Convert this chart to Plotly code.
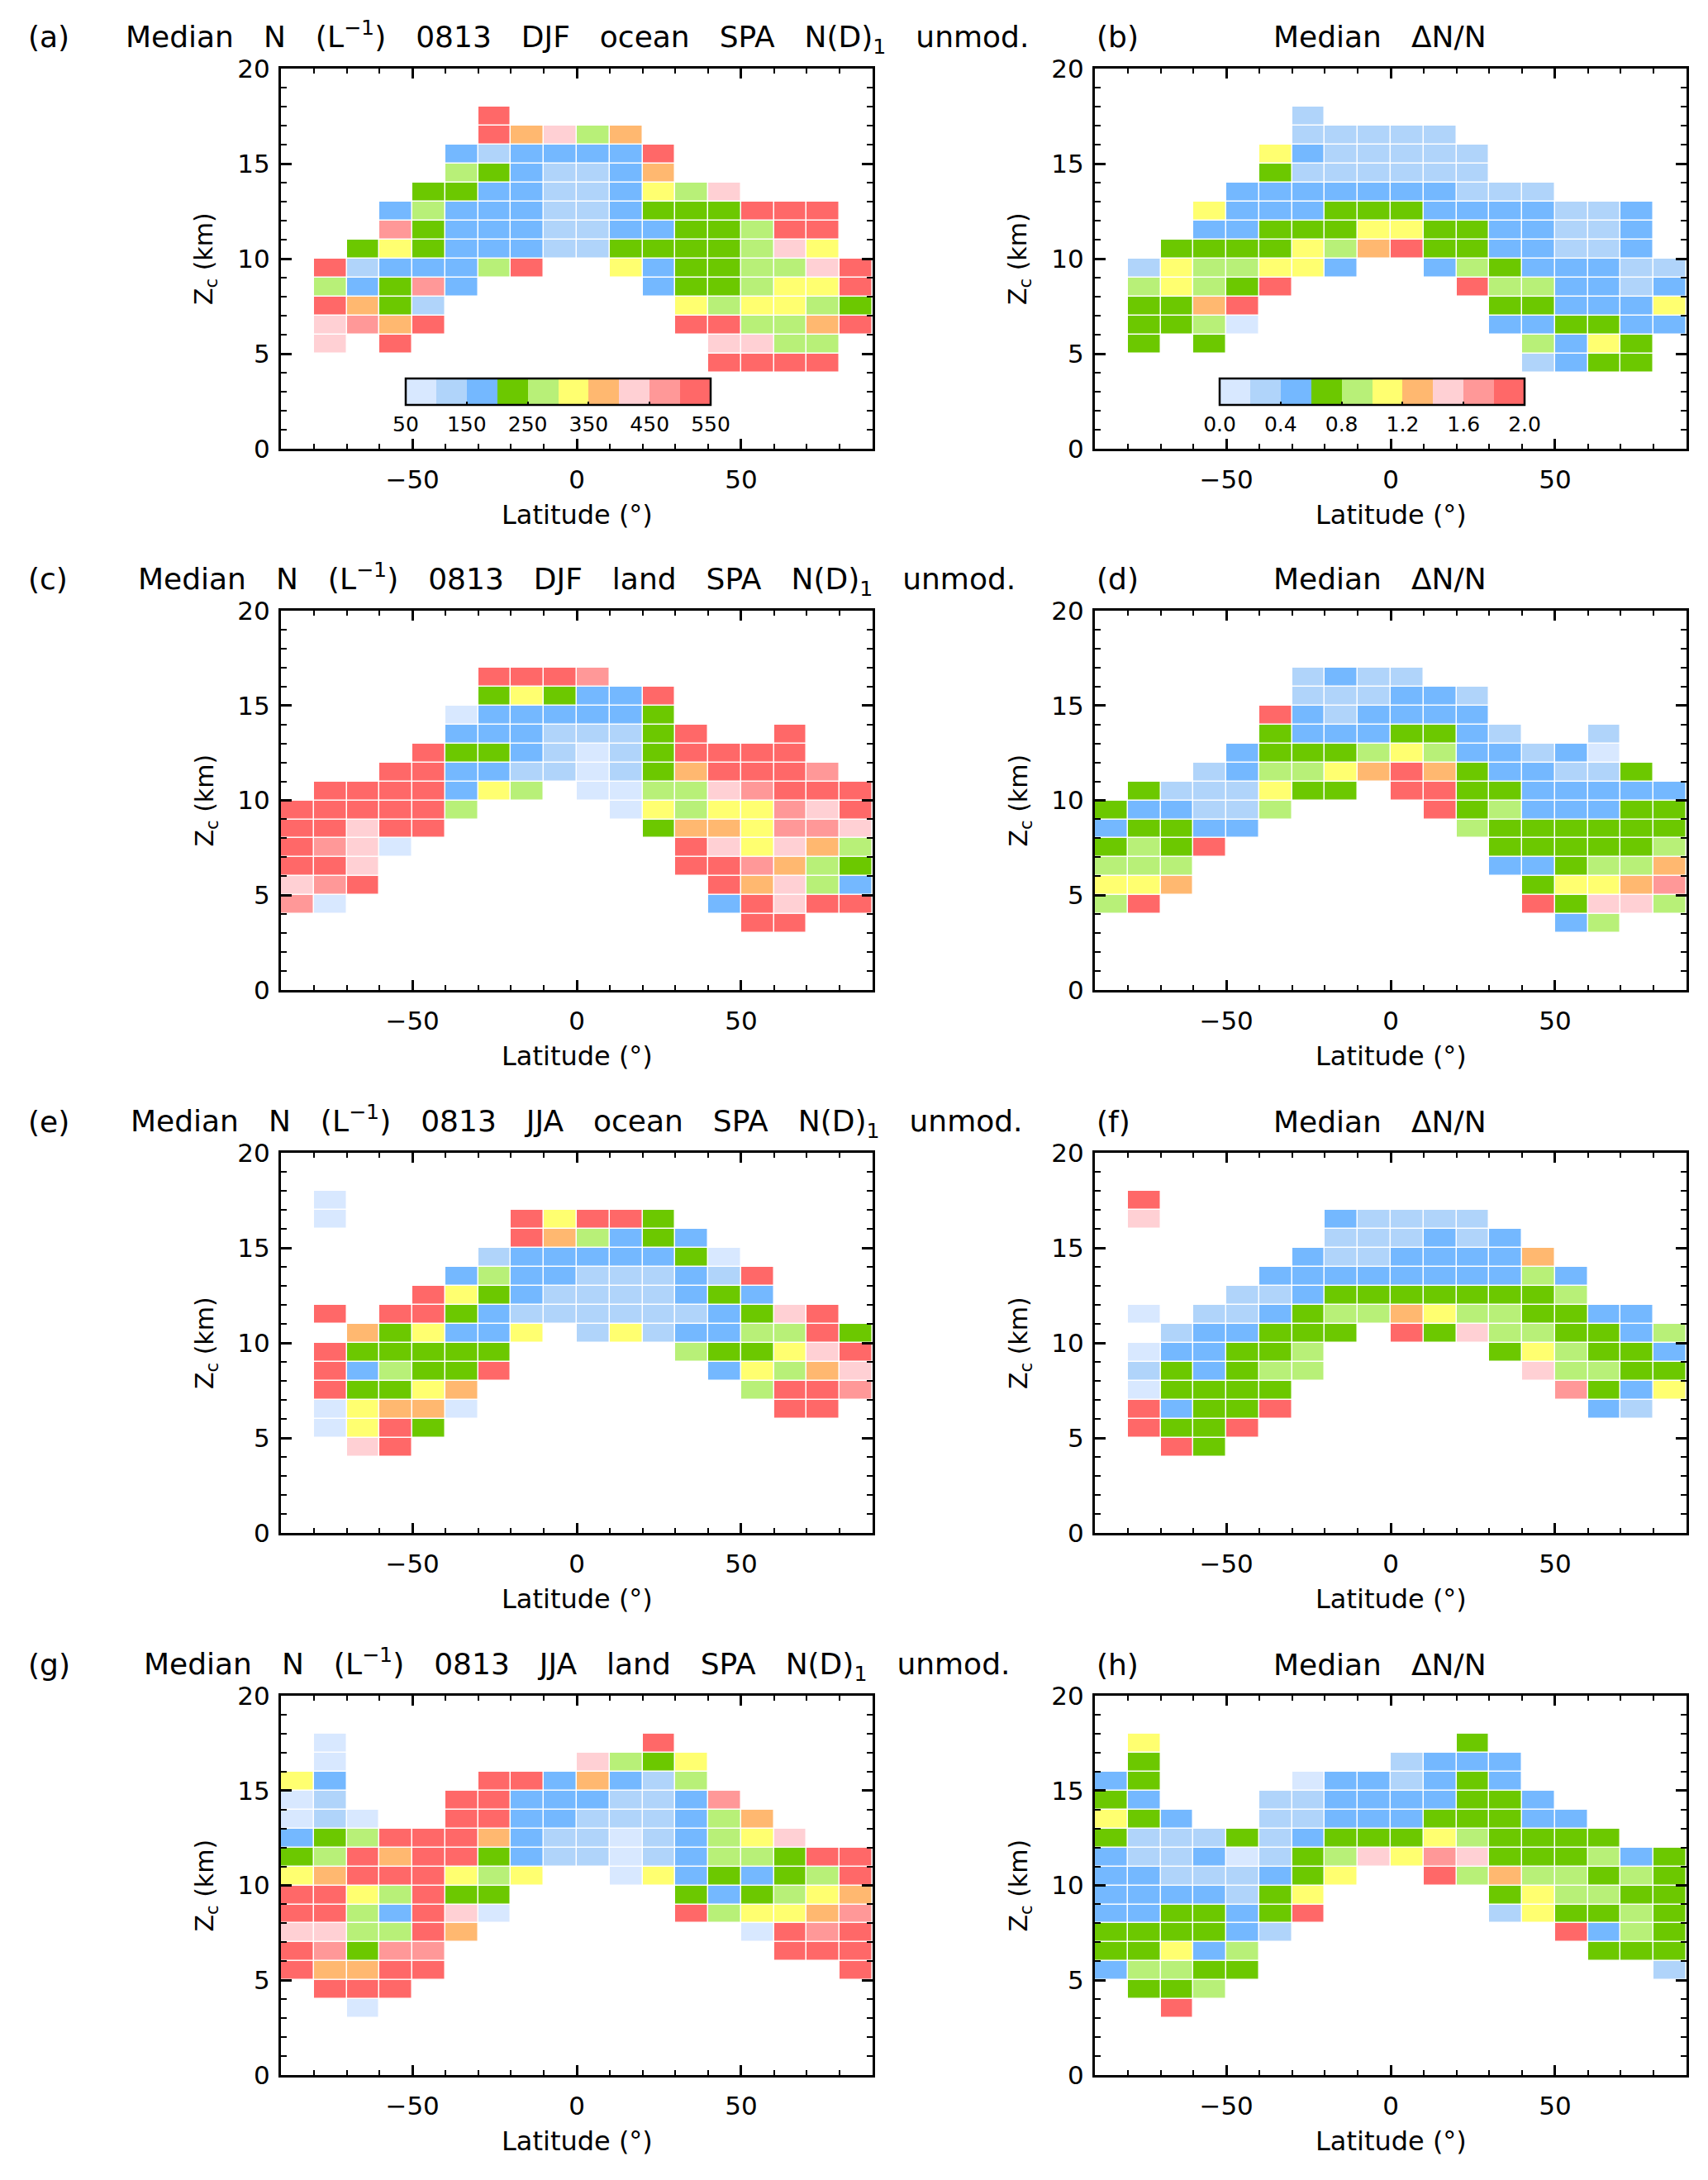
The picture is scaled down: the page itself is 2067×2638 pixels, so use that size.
import plotly.graph_objects as go

_ = None

# ---------------- data ----------------
LAT_CENTERS = [-85, -75, -65, -55, -45, -35, -25, -15, -5, 5, 15, 25, 35, 45, 55, 65, 75, 85]
# altitude bin centres (km), rows listed top -> bottom
Z_CENTERS = [17.5, 16.5, 15.5, 14.5, 13.5, 12.5, 11.5, 10.5, 9.5, 8.5, 7.5, 6.5, 5.5, 4.5, 3.5]

N_COLORBAR_TICKS = [50, 150, 250, 350, 450, 550]
R_COLORBAR_TICKS = [0.0, 0.4, 0.8, 1.2, 1.6, 2.0]
R_COLORBAR_TEXT = ["0.0", "0.4", "0.8", "1.2", "1.6", "2.0"]

# (a) Median N, DJF ocean
N_DJF_OCEAN = [
    [_, _, _, _, _, _, 525, _, _, _, _, _, _, _, _, _, _, _],
    [_, _, _, _, _, _, 525, 375, 425, 275, 375, _, _, _, _, _, _, _],
    [_, _, _, _, _, 175, 125, 175, 175, 175, 175, 525, _, _, _, _, _, _],
    [_, _, _, _, _, 275, 225, 175, 125, 125, 175, 375, _, _, _, _, _, _],
    [_, _, _, _, 225, 225, 175, 175, 125, 125, 175, 325, 275, 425, _, _, _, _],
    [_, _, _, 175, 275, 175, 175, 175, 125, 125, 175, 225, 225, 225, 525, 525, 525, _],
    [_, _, _, 475, 225, 175, 175, 175, 125, 125, 175, 175, 225, 225, 275, 525, 525, _],
    [_, _, 225, 325, 225, 175, 175, 175, 125, 125, 225, 225, 225, 225, 275, 425, 325, _],
    [_, 525, 125, 175, 175, 175, 275, 525, _, _, 325, 175, 225, 225, 275, 275, 425, 525],
    [_, 275, 175, 225, 475, 175, _, _, _, _, _, 175, 225, 225, 275, 325, 325, 525],
    [_, 525, 375, 225, 125, _, _, _, _, _, _, _, 325, 275, 325, 325, 275, 225],
    [_, 425, 475, 375, 525, _, _, _, _, _, _, _, 525, 525, 275, 275, 375, 525],
    [_, 425, _, 525, _, _, _, _, _, _, _, _, _, 425, 425, 275, 275, _],
    [_, _, _, _, _, _, _, _, _, _, _, _, _, 525, 525, 525, 525, _],
    [_, _, _, _, _, _, _, _, _, _, _, _, _, _, _, _, _, _],
]

# (b) Median dN/N, DJF ocean
DNN_DJF_OCEAN = [
    [_, _, _, _, _, _, .3, _, _, _, _, _, _, _, _, _, _, _],
    [_, _, _, _, _, _, .3, .3, .3, .3, .3, _, _, _, _, _, _, _],
    [_, _, _, _, _, 1.1, .5, .3, .3, .3, .3, .3, _, _, _, _, _, _],
    [_, _, _, _, _, .7, .3, .3, .3, .3, .3, .3, _, _, _, _, _, _],
    [_, _, _, _, .5, .5, .5, .5, .5, .5, .5, .3, .3, .3, _, _, _, _],
    [_, _, _, 1.1, .5, .5, .5, .7, .7, .7, .5, .5, .5, .5, .3, .3, .5, _],
    [_, _, _, .5, .5, .7, .7, .7, 1.1, 1.1, .7, .7, .5, .5, .3, .3, .5, _],
    [_, _, .7, .7, .7, .7, 1.1, .9, 1.3, 1.9, .7, .7, .5, .5, .3, .3, .5, _],
    [_, .3, 1.1, .9, .9, 1.1, 1.1, .5, _, _, .5, .9, .7, .5, .5, .5, .3, .3],
    [_, .9, 1.1, .9, .7, 1.9, _, _, _, _, _, 1.9, .9, .9, .5, .5, .3, .5],
    [_, .7, .7, 1.3, 1.9, _, _, _, _, _, _, _, .7, .7, .5, .5, .5, 1.1],
    [_, .7, .7, .9, .1, _, _, _, _, _, _, _, .5, .5, .7, .7, .5, .5],
    [_, .7, _, .7, _, _, _, _, _, _, _, _, _, .9, .5, 1.1, .7, _],
    [_, _, _, _, _, _, _, _, _, _, _, _, _, .3, .5, .7, .7, _],
    [_, _, _, _, _, _, _, _, _, _, _, _, _, _, _, _, _, _],
]

# (c) Median N, DJF land
N_DJF_LAND = [
    [_, _, _, _, _, _, _, _, _, _, _, _, _, _, _, _, _, _],
    [_, _, _, _, _, _, 525, 525, 525, 475, _, _, _, _, _, _, _, _],
    [_, _, _, _, _, _, 225, 325, 225, 175, 175, 525, _, _, _, _, _, _],
    [_, _, _, _, _, 75, 175, 175, 175, 175, 175, 225, _, _, _, _, _, _],
    [_, _, _, _, _, 175, 175, 175, 125, 125, 125, 225, 525, _, _, 525, _, _],
    [_, _, _, _, 525, 225, 225, 175, 125, 75, 125, 225, 525, 525, 525, 525, _, _],
    [_, _, _, 525, 525, 175, 175, 125, 125, 75, 125, 225, 375, 525, 525, 525, 475, _],
    [_, 525, 525, 525, 525, 175, 325, 275, _, 75, 75, 275, 275, 425, 475, 525, 525, 525],
    [525, 525, 525, 525, 525, 275, _, _, _, _, 75, 325, 275, 325, 325, 475, 425, 525],
    [525, 525, 425, 525, 525, _, _, _, _, _, _, 225, 375, 375, 325, 475, 475, 425],
    [525, 475, 425, 75, _, _, _, _, _, _, _, _, 525, 425, 325, 425, 375, 275],
    [525, 525, 425, _, _, _, _, _, _, _, _, _, 525, 525, 475, 375, 275, 225],
    [425, 475, 525, _, _, _, _, _, _, _, _, _, _, 525, 375, 425, 275, 175],
    [475, 75, _, _, _, _, _, _, _, _, _, _, _, 175, 525, 425, 525, 525],
    [_, _, _, _, _, _, _, _, _, _, _, _, _, _, 525, 525, _, _],
]

# (d) Median dN/N, DJF land
DNN_DJF_LAND = [
    [_, _, _, _, _, _, _, _, _, _, _, _, _, _, _, _, _, _],
    [_, _, _, _, _, _, .3, .5, .3, .3, _, _, _, _, _, _, _, _],
    [_, _, _, _, _, _, .3, .3, .3, .5, .5, .3, _, _, _, _, _, _],
    [_, _, _, _, _, 1.9, .5, .3, .5, .5, .5, .5, _, _, _, _, _, _],
    [_, _, _, _, _, .7, .5, .5, .5, .7, .7, .5, .3, _, _, .3, _, _],
    [_, _, _, _, .5, .7, .7, .7, .9, 1.1, .9, .5, .5, .3, .5, .1, _, _],
    [_, _, _, .3, .5, .9, .9, 1.1, 1.3, 1.9, 1.3, .7, .5, .5, .3, .3, .7, _],
    [_, .7, .3, .3, .3, 1.1, .7, .7, _, 1.9, 1.9, .7, .7, .5, .5, .5, .5, .5],
    [.7, .5, .5, .3, .3, .9, _, _, _, _, 1.9, .7, .9, .5, .5, .5, .7, .7],
    [.5, .7, .7, .5, .5, _, _, _, _, _, _, .9, .7, .7, .7, .7, .7, .7],
    [.7, .9, .7, 1.9, _, _, _, _, _, _, _, _, .7, .7, .7, .7, .7, .9],
    [.9, .9, .9, _, _, _, _, _, _, _, _, _, .5, .5, .7, .9, .9, 1.3],
    [1.1, 1.1, 1.3, _, _, _, _, _, _, _, _, _, _, .7, 1.1, 1.1, 1.3, 1.7],
    [.9, 1.9, _, _, _, _, _, _, _, _, _, _, _, 1.9, .7, 1.5, 1.5, .9],
    [_, _, _, _, _, _, _, _, _, _, _, _, _, _, .5, .9, _, _],
]

# (e) Median N, JJA ocean
N_JJA_OCEAN = [
    [_, 75, _, _, _, _, _, _, _, _, _, _, _, _, _, _, _, _],
    [_, 75, _, _, _, _, _, 525, 325, 525, 525, 225, _, _, _, _, _, _],
    [_, _, _, _, _, _, _, 525, 375, 275, 175, 225, 175, _, _, _, _, _],
    [_, _, _, _, _, _, 125, 175, 175, 175, 175, 175, 225, 75, _, _, _, _],
    [_, _, _, _, _, 175, 275, 175, 175, 125, 125, 125, 175, 125, 525, _, _, _],
    [_, _, _, _, 525, 325, 225, 175, 125, 125, 125, 125, 175, 225, 175, _, _, _],
    [_, 525, _, 525, 525, 225, 175, 125, 125, 125, 125, 125, 125, 175, 225, 425, 525, _],
    [_, _, 375, 225, 325, 175, 175, 325, _, 125, 325, 125, 175, 175, 275, 275, 525, 225],
    [_, 525, 225, 225, 225, 225, 225, _, _, _, _, _, 275, 225, 225, 325, 425, 525],
    [_, 525, 175, 275, 225, 225, 525, _, _, _, _, _, _, 175, 325, 275, 375, 425],
    [_, 525, 225, 225, 325, 375, _, _, _, _, _, _, _, _, 275, 525, 525, 475],
    [_, 75, 325, 375, 375, 75, _, _, _, _, _, _, _, _, _, 525, 525, _],
    [_, 75, 325, 525, 225, _, _, _, _, _, _, _, _, _, _, _, _, _],
    [_, _, 425, 525, _, _, _, _, _, _, _, _, _, _, _, _, _, _],
    [_, _, _, _, _, _, _, _, _, _, _, _, _, _, _, _, _, _],
]

# (f) Median dN/N, JJA ocean
DNN_JJA_OCEAN = [
    [_, 1.9, _, _, _, _, _, _, _, _, _, _, _, _, _, _, _, _],
    [_, 1.5, _, _, _, _, _, .5, .3, .3, .3, .3, _, _, _, _, _, _],
    [_, _, _, _, _, _, _, .3, .3, .3, .5, .3, .5, _, _, _, _, _],
    [_, _, _, _, _, _, .5, .3, .3, .5, .5, .5, .5, 1.3, _, _, _, _],
    [_, _, _, _, _, .5, .5, .5, .5, .5, .5, .5, .5, .9, .5, _, _, _],
    [_, _, _, _, .3, .3, .5, .7, .7, .7, .7, .7, .7, .7, .9, _, _, _],
    [_, .1, _, .3, .3, .5, .7, .9, .9, 1.3, 1.1, .9, .9, .7, .7, .5, .5, _],
    [_, _, .3, .5, .5, .7, .7, .7, _, 1.9, .7, 1.5, .9, .9, .7, .7, .5, .9],
    [_, .1, .5, .5, .7, .7, .9, _, _, _, _, _, .7, 1.1, .9, .7, .7, .5],
    [_, .3, .7, .5, .7, .9, .9, _, _, _, _, _, _, 1.5, .9, .9, .7, .7],
    [_, .1, .7, .7, .7, .7, _, _, _, _, _, _, _, _, 1.7, .7, .5, 1.1],
    [_, 1.9, .5, .7, .7, 1.9, _, _, _, _, _, _, _, _, _, .5, .3, _],
    [_, 1.9, .7, .7, 1.9, _, _, _, _, _, _, _, _, _, _, _, _, _],
    [_, _, 1.9, .7, _, _, _, _, _, _, _, _, _, _, _, _, _, _],
    [_, _, _, _, _, _, _, _, _, _, _, _, _, _, _, _, _, _],
]

# (g) Median N, JJA land
N_JJA_LAND = [
    [_, 75, _, _, _, _, _, _, _, _, _, 525, _, _, _, _, _, _],
    [_, 75, _, _, _, _, _, _, _, 425, 275, 225, 325, _, _, _, _, _],
    [325, 175, _, _, _, _, 525, 525, 175, 375, 175, 125, 275, _, _, _, _, _],
    [75, 125, _, _, _, 525, 525, 175, 175, 175, 125, 125, 175, 475, _, _, _, _],
    [75, 125, 75, _, _, 525, 525, 175, 175, 125, 125, 125, 175, 275, 375, _, _, _],
    [175, 225, 275, 525, 525, 525, 375, 175, 125, 125, 75, 125, 175, 275, 325, 425, _, _],
    [225, 275, 525, 375, 525, 525, 225, 175, 125, 125, 75, 125, 175, 275, 275, 225, 525, 525],
    [325, 375, 525, 525, 525, 325, 275, 325, _, _, 75, 325, 175, 225, 175, 225, 275, 525],
    [525, 525, 325, 275, 525, 225, 225, _, _, _, _, _, 225, 175, 225, 275, 325, 375],
    [525, 525, 275, 175, 525, 425, 75, _, _, _, _, _, 525, 275, 325, 325, 375, 475],
    [425, 425, 275, 275, 525, 375, _, _, _, _, _, _, _, _, 75, 525, 475, 525],
    [525, 475, 225, 475, 475, _, _, _, _, _, _, _, _, _, _, 525, 525, 525],
    [525, 375, 375, 525, 525, _, _, _, _, _, _, _, _, _, _, _, _, 525],
    [_, 525, 525, 525, _, _, _, _, _, _, _, _, _, _, _, _, _, _],
    [_, _, 75, _, _, _, _, _, _, _, _, _, _, _, _, _, _, _],
]

# (h) Median dN/N, JJA land
DNN_JJA_LAND = [
    [_, 1.1, _, _, _, _, _, _, _, _, _, .7, _, _, _, _, _, _],
    [_, .7, _, _, _, _, _, _, _, .3, .5, .5, .5, _, _, _, _, _],
    [.5, .7, _, _, _, _, .1, .5, .5, .3, .5, .7, .5, _, _, _, _, _],
    [.7, .5, _, _, _, .3, .3, .5, .5, .5, .5, .7, .7, .5, _, _, _, _],
    [1.1, .7, .5, _, _, .3, .3, .5, .5, .5, .7, .7, .7, .5, .5, _, _, _],
    [.7, .3, .3, .3, .7, .3, .5, .7, .7, .7, 1.1, .9, .7, .7, .7, .7, _, _],
    [.5, .3, .3, .5, .1, .3, .7, .9, 1.5, 1.1, 1.7, 1.5, .7, .7, .7, .9, .5, .7],
    [.5, .5, .3, .3, .3, .5, .7, 1.1, _, _, 1.9, .9, 1.3, .9, .9, .7, .9, .7],
    [.5, .5, .5, .5, .3, .7, 1.1, _, _, _, _, _, .7, 1.1, .9, .9, .7, .7],
    [.5, .5, .7, .7, .5, .7, 1.9, _, _, _, _, _, .3, 1.1, .7, .7, .9, .7],
    [.7, .7, .7, .7, .5, .3, _, _, _, _, _, _, _, _, 1.9, .5, .9, .7],
    [.7, .7, 1.1, .5, .9, _, _, _, _, _, _, _, _, _, _, .7, .7, .7],
    [.5, .9, .9, .7, .7, _, _, _, _, _, _, _, _, _, _, _, _, .3],
    [_, .7, .7, .9, _, _, _, _, _, _, _, _, _, _, _, _, _, _],
    [_, _, 1.9, _, _, _, _, _, _, _, _, _, _, _, _, _, _, _],
]

SP = "\u2003"
TITLE_N = SP.join(["Median", "N", "(L<sup>\u22121</sup>)", "0813", "{season}", "{surface}",
                   "SPA", "N(D)<sub>1</sub>", "unmod."])
TITLE_R = SP.join(["Median", "\u0394N/N"])

PANELS = [
    ("(a)", TITLE_N.format(season="DJF", surface="ocean"), N_DJF_OCEAN, "N"),
    ("(b)", TITLE_R, DNN_DJF_OCEAN, "R"),
    ("(c)", TITLE_N.format(season="DJF", surface="land"), N_DJF_LAND, "N"),
    ("(d)", TITLE_R, DNN_DJF_LAND, "R"),
    ("(e)", TITLE_N.format(season="JJA", surface="ocean"), N_JJA_OCEAN, "N"),
    ("(f)", TITLE_R, DNN_JJA_OCEAN, "R"),
    ("(g)", TITLE_N.format(season="JJA", surface="land"), N_JJA_LAND, "N"),
    ("(h)", TITLE_R, DNN_JJA_LAND, "R"),
]

# ---------------- styling ----------------
COLORS = ["#d8e8ff", "#b0d4fa", "#74b8ff", "#6cc800", "#b8f078",
          "#ffff70", "#ffb870", "#ffd0d4", "#ff9898", "#ff6868"]
SCALE = []
for i, c in enumerate(COLORS):
    SCALE.append([i / 10, c])
    SCALE.append([(i + 1) / 10, c])

W, H = 2067, 2638
FONT = "DejaVu Sans"
COL_X = [(340, 1056), (1325, 2041)]
ROW_Y = [(83, 543), (739, 1198), (1395, 1855), (2052, 2511)]

fig = go.Figure()
annotations = []
layout_axes = {}

zc = Z_CENTERS[::-1]

for k, (letter, title, grid, kind) in enumerate(PANELS):
    r, c = divmod(k, 2)
    x0, x1 = COL_X[c]
    top, bot = ROW_Y[r]
    xs = "" if k == 0 else str(k + 1)
    xname, yname = "x" + xs, "y" + xs

    hm = dict(
        x=LAT_CENTERS, y=zc, z=grid[::-1],
        colorscale=SCALE, xgap=1.5, ygap=1.5,
        hoverinfo="skip", xaxis=xname, yaxis=yname,
        showscale=(k < 2),
    )
    if kind == "N":
        hm.update(zmin=50, zmax=550)
        tv, tt = N_COLORBAR_TICKS, [str(v) for v in N_COLORBAR_TICKS]
    else:
        hm.update(zmin=0, zmax=2)
        tv, tt = R_COLORBAR_TICKS, R_COLORBAR_TEXT
    if k < 2:
        cb_left = x0 + 151
        hm["colorbar"] = dict(
            orientation="h", x=(cb_left + 184.5) / W, xanchor="center",
            y=1 - 458 / H, yanchor="top",
            len=369, lenmode="pixels", thickness=32, thicknessmode="pixels",
            xpad=0, ypad=0, outlinewidth=2.5, outlinecolor="black",
            tickvals=tv, ticktext=tt, ticks="inside", ticklen=5, tickwidth=2,
            tickcolor="black", tickfont=dict(family=FONT, size=25, color="black"),
        )
    fig.add_trace(go.Heatmap(**hm))

    axcommon = dict(
        showline=True, linewidth=3, linecolor="black", mirror="ticks",
        ticks="inside", tickcolor="black", tickwidth=2.5,
        showgrid=False, zeroline=False, fixedrange=True, automargin=False,
        tickfont=dict(family=FONT, size=31, color="black"),
    )
    layout_axes["xaxis" + xs] = dict(
        axcommon, domain=[x0 / W, x1 / W], range=[-90, 90], anchor=yname,
        tickmode="linear", tick0=0, dtick=50, ticklen=12, ticklabelstandoff=8,
        minor=dict(tick0=0, dtick=10, ticks="inside", ticklen=6, tickwidth=2, tickcolor="black"),
    )
    layout_axes["yaxis" + xs] = dict(
        axcommon, domain=[1 - bot / H, 1 - top / H], range=[0, 20], anchor=xname,
        tickmode="linear", tick0=0, dtick=5, ticklen=13, ticklabelstandoff=4,
        minor=dict(tick0=0, dtick=1, ticks="inside", ticklen=7, tickwidth=2, tickcolor="black"),
    )

    ty = 1 - (top - 38) / H
    annotations.append(dict(text=letter, xref="paper", yref="paper",
                            x=(32 if c == 0 else 1325) / W, y=ty, xanchor="left", yanchor="middle",
                            showarrow=False, font=dict(family=FONT, size=36, color="black")))
    tcx = (x0 + x1) / 2 if c == 0 else 1670
    annotations.append(dict(text=title, xref="paper", yref="paper",
                            x=tcx / W, y=ty, xanchor="center", yanchor="middle",
                            showarrow=False, font=dict(family=FONT, size=36, color="black")))
    annotations.append(dict(text="Latitude (\u00b0)", xref="paper", yref="paper",
                            x=(x0 + x1) / 2 / W, y=1 - (bot + 80) / H,
                            xanchor="center", yanchor="middle", showarrow=False,
                            font=dict(family=FONT, size=32, color="black")))
    annotations.append(dict(text="Z<sub>c</sub> (km)", xref="paper", yref="paper",
                            x=(x0 - 91) / W, y=1 - (top + bot) / 2 / H, textangle=-90,
                            xanchor="center", yanchor="middle", showarrow=False,
                            font=dict(family=FONT, size=30, color="black")))

fig.update_layout(
    width=W, height=H, margin=dict(l=0, r=0, t=0, b=0, pad=0, autoexpand=False),
    paper_bgcolor="white", plot_bgcolor="white",
    font=dict(family=FONT, color="black"),
    annotations=annotations, showlegend=False,
    **layout_axes,
)

POST = (
    "var gd = document.getElementById('{plot_id}');"
    "gd.style.position='fixed'; gd.style.top='0px'; gd.style.left='0px';"
    "document.documentElement.style.margin='0'; document.body.style.margin='0';"
    "document.documentElement.style.overflow='hidden'; document.body.style.overflow='hidden';"
)

fig.write_html("out.html", config={"displayModeBar": False}, post_script=POST)
